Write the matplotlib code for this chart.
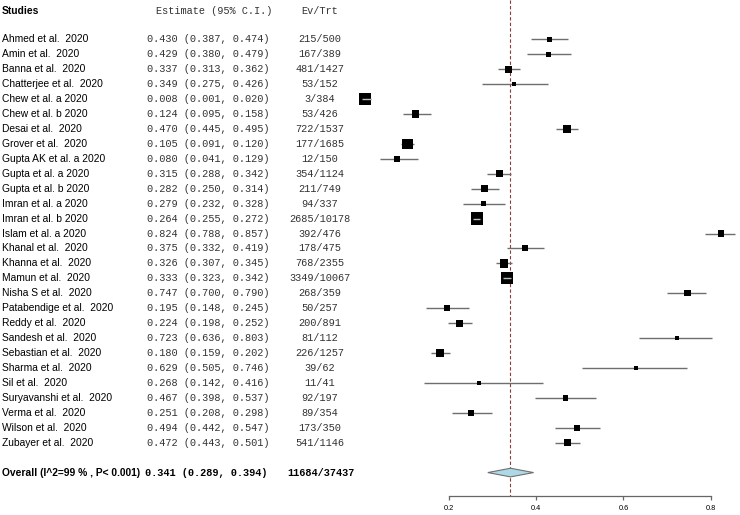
import matplotlib
matplotlib.use("Agg")
import matplotlib.pyplot as plt
from matplotlib.transforms import blended_transform_factory

studies = ["Ahmed et al.  2020", "Amin et al.  2020", "Banna et al.  2020",
           "Chatterjee et al.  2020", "Chew et al. a 2020", "Chew et al. b 2020",
           "Desai et al.  2020", "Grover et al.  2020", "Gupta AK et al. a 2020",
           "Gupta et al. a 2020", "Gupta et al. b 2020", "Imran et al. a 2020",
           "Imran et al. b 2020", "Islam et al. a 2020", "Khanal et al.  2020",
           "Khanna et al.  2020", "Mamun et al.  2020", "Nisha S et al.  2020",
           "Patabendige et al.  2020", "Reddy et al.  2020", "Sandesh et al.  2020",
           "Sebastian et al.  2020", "Sharma et al.  2020", "Sil et al.  2020",
           "Suryavanshi et al.  2020", "Verma et al.  2020", "Wilson et al.  2020",
           "Zubayer et al.  2020"]
est = [0.430, 0.429, 0.337, 0.349, 0.008, 0.124, 0.470, 0.105, 0.080, 0.315,
       0.282, 0.279, 0.264, 0.824, 0.375, 0.326, 0.333, 0.747, 0.195, 0.224,
       0.723, 0.180, 0.629, 0.268, 0.467, 0.251, 0.494, 0.472]
lower = [0.387, 0.380, 0.313, 0.275, 0.001, 0.095, 0.445, 0.091, 0.041, 0.288,
         0.250, 0.232, 0.255, 0.788, 0.332, 0.307, 0.323, 0.700, 0.148, 0.198,
         0.636, 0.159, 0.505, 0.142, 0.398, 0.208, 0.442, 0.443]
upper = [0.474, 0.479, 0.362, 0.426, 0.020, 0.158, 0.495, 0.120, 0.129, 0.342,
         0.314, 0.328, 0.272, 0.857, 0.419, 0.345, 0.342, 0.790, 0.245, 0.252,
         0.803, 0.202, 0.746, 0.416, 0.537, 0.298, 0.547, 0.501]
events = [215, 167, 481, 53, 3, 53, 722, 177, 12, 354, 211, 94, 2685, 392, 178,
          768, 3349, 268, 50, 200, 81, 226, 39, 11, 92, 89, 173, 541]
totals = [500, 389, 1427, 152, 384, 426, 1537, 1685, 150, 1124, 749, 337, 10178,
          476, 475, 2355, 10067, 359, 257, 891, 112, 1257, 62, 41, 197, 354, 350, 1146]
# relative study weights
weights = [2.8, 2.7, 3.7, 2.0, 6.2, 3.6, 4.1, 5.4, 3.2, 3.7, 3.6, 2.9, 6.3, 3.4,
           3.1, 4.4, 6.2, 3.1, 3.1, 3.6, 2.4, 4.1, 2.2, 1.9, 2.7, 3.1, 2.9, 3.7]

overall_label = "Overall (I^2=99 % , P< 0.001)"
overall_est, overall_lo, overall_hi = 0.341, 0.289, 0.394
overall_ev, overall_trt = 11684, 37437
xticks = [0.2, 0.4, 0.6, 0.8]

W, H = 740, 515
fig = plt.figure(figsize=(W / 100, H / 100), dpi=100)
ax = fig.add_axes([0, 0, 1, 1])
ax.set_xlim(-0.8298, 0.8674)
ax.set_ylim(31.84, -2.63)
ax.patch.set_alpha(0)

px_per_unit = 436.0  # pixels per 1.0 on the estimate scale
n = len(studies)
rows = list(range(n))
overall_row = n + 1

sans = "Liberation Sans"
mono = "Liberation Mono"
fs = 7.4
mono_col = "#333333"
tr = blended_transform_factory(ax.transAxes, ax.transData)

# reference line at the overall estimate
ax.vlines(overall_est, -2.63, 30.55, colors="#8e3b3b", linestyles=(0, (3, 2)),
          linewidth=0.8, zorder=1)

# confidence intervals and boxes
ax.hlines(rows, lower, upper, colors="#6e6e6e", linewidth=1.0, zorder=2)
sides = [w * 1.96 for w in weights]
ax.scatter(est, rows, marker="s", s=[(s * 0.72) ** 2 for s in sides],
           color="black", linewidths=0, zorder=3)
for r in rows:
    if (upper[r] - lower[r]) * px_per_unit < sides[r]:
        ax.hlines(r, lower[r], upper[r], colors="#bdbdbd", linewidth=1.0, zorder=4)

# overall diamond
h = 0.29
ax.fill([overall_lo, overall_est, overall_hi, overall_est],
        [overall_row, overall_row - h, overall_row, overall_row + h],
        facecolor="#add8e6", edgecolor="#707070", linewidth=0.8, zorder=3)

# text columns
ax.text(2 / W, -1.89, "Studies", transform=tr, fontfamily=sans, fontsize=fs,
        fontweight="bold", va="center", ha="left")
ax.text(156 / W, -1.89, "Estimate (95% C.I.)", transform=tr, fontfamily=mono,
        fontsize=fs, va="center", ha="left", color=mono_col)
ax.text(320 / W, -1.89, "Ev/Trt", transform=tr, fontfamily=mono, fontsize=fs,
        va="center", ha="center", color=mono_col)

for r in rows:
    ax.text(2 / W, r, studies[r], transform=tr, fontfamily=sans, fontsize=fs,
            va="center", ha="left")
    ax.text(147 / W, r, "%.3f (%.3f, %.3f)" % (est[r], lower[r], upper[r]),
            transform=tr, fontfamily=mono, fontsize=fs, va="center", ha="left",
            color=mono_col)
    ax.text(320 / W, r, "%d/%d" % (events[r], totals[r]), transform=tr,
            fontfamily=mono, fontsize=fs, va="center", ha="center", color=mono_col)

ax.text(2 / W, overall_row, overall_label, transform=tr, fontfamily=sans,
        fontsize=fs, fontweight="bold", va="center", ha="left")
ax.text(145 / W, overall_row, "%.3f (%.3f, %.3f)" % (overall_est, overall_lo, overall_hi),
        transform=tr, fontfamily=mono, fontsize=fs, fontweight="bold",
        va="center", ha="left")
ax.text(321 / W, overall_row, "%d/%d" % (overall_ev, overall_trt), transform=tr,
        fontfamily=mono, fontsize=fs, fontweight="bold", va="center", ha="center")

# x axis
for side in ["top", "left", "right"]:
    ax.spines[side].set_visible(False)
ax.spines["bottom"].set_position(("data", 30.55))
ax.spines["bottom"].set_bounds(0.2, 0.8)
ax.spines["bottom"].set_color("#666666")
ax.spines["bottom"].set_linewidth(0.9)
ax.set_xticks(xticks)
ax.set_xticklabels([str(t) for t in xticks], fontfamily=sans, fontsize=5.3)
ax.tick_params(axis="x", direction="out", length=3, width=0.9, color="#666666", pad=4)
ax.set_yticks([])

fig.savefig("out.png", dpi=100)
